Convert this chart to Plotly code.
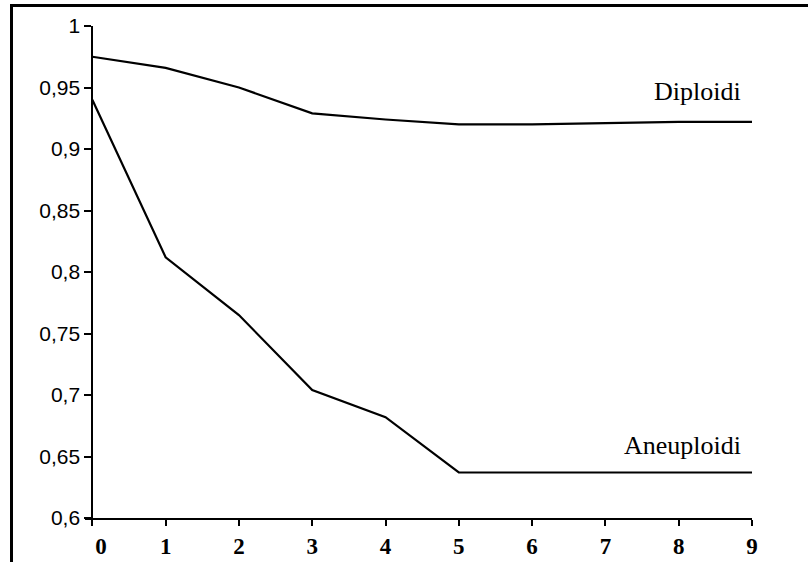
import plotly.graph_objects as go

giorni = [0, 1, 2, 3, 4, 5, 6, 7, 8, 9]
diploidi = [0.975, 0.966, 0.950, 0.929, 0.924, 0.920, 0.920, 0.921, 0.922, 0.922]
aneuploidi = [0.940, 0.812, 0.765, 0.704, 0.682, 0.637, 0.637, 0.637, 0.637, 0.637]
y_tickvals = [0.6, 0.65, 0.7, 0.75, 0.8, 0.85, 0.9, 0.95, 1.0]
y_ticktext = ["0,6", "0,65", "0,7", "0,75", "0,8", "0,85", "0,9", "0,95", "1"]
x_ticktext = ["\u00a0\u00a0\u00a00", "1", "2", "3", "4", "5", "6", "7", "8", "9"]

fig = go.Figure()
fig.add_trace(go.Scatter(x=giorni, y=diploidi, mode="lines",
                         line=dict(color="black", width=2.2), name="Diploidi",
                         cliponaxis=False))
fig.add_trace(go.Scatter(x=giorni, y=aneuploidi, mode="lines",
                         line=dict(color="black", width=2.2), name="Aneuploidi",
                         cliponaxis=False))

L, R, T, B = 85, 56, 26, 44
W, H = 808, 562
pw, ph = W - L - R, H - T - B

def px(xp):
    return (xp - L) / pw

def py(yp):
    return (H - B - yp) / ph

fig.update_layout(
    width=W, height=H,
    margin=dict(l=L, r=R, t=T, b=B),
    paper_bgcolor="white", plot_bgcolor="white",
    showlegend=False,
    xaxis=dict(range=[-0.1, 9], tickvals=giorni, ticktext=x_ticktext,
               automargin=False,
               showline=True, linecolor="black", linewidth=2,
               ticks="outside", ticklen=6, tickwidth=2, tickcolor="black",
               showgrid=False, zeroline=False,
               tickfont=dict(family="Liberation Serif", size=23, color="black",
                             weight="bold")),
    yaxis=dict(range=[0.6, 1.0], tickvals=y_tickvals, ticktext=y_ticktext,
               anchor="free", position=0.1 / 9.1, automargin=False,
               showline=True, linecolor="black", linewidth=2,
               ticks="outside", ticklen=7, tickwidth=2, tickcolor="black",
               showgrid=False, zeroline=False,
               tickfont=dict(family="Liberation Sans", size=21, color="black")),
    annotations=[
        dict(x=8.88, y=0.9465, xref="x", yref="y", text="Diploidi", showarrow=False,
             xanchor="right", yanchor="middle",
             font=dict(family="Liberation Serif", size=26, color="black")),
        dict(x=8.88, y=0.659, xref="x", yref="y", text="Aneuploidi", showarrow=False,
             xanchor="right", yanchor="middle",
             font=dict(family="Liberation Serif", size=26, color="black")),
    ],
    shapes=[
        dict(type="line", xref="paper", yref="paper", x0=px(10), x1=px(812),
             y0=py(5.5), y1=py(5.5), line=dict(color="black", width=3)),
        dict(type="line", xref="paper", yref="paper", x0=px(11.5), x1=px(11.5),
             y0=py(4), y1=py(566), line=dict(color="black", width=3)),
    ],
)

fig.write_html("out.html", config={"displayModeBar": False},
               post_script="document.body.style.margin='0';document.body.style.overflow='hidden';")
